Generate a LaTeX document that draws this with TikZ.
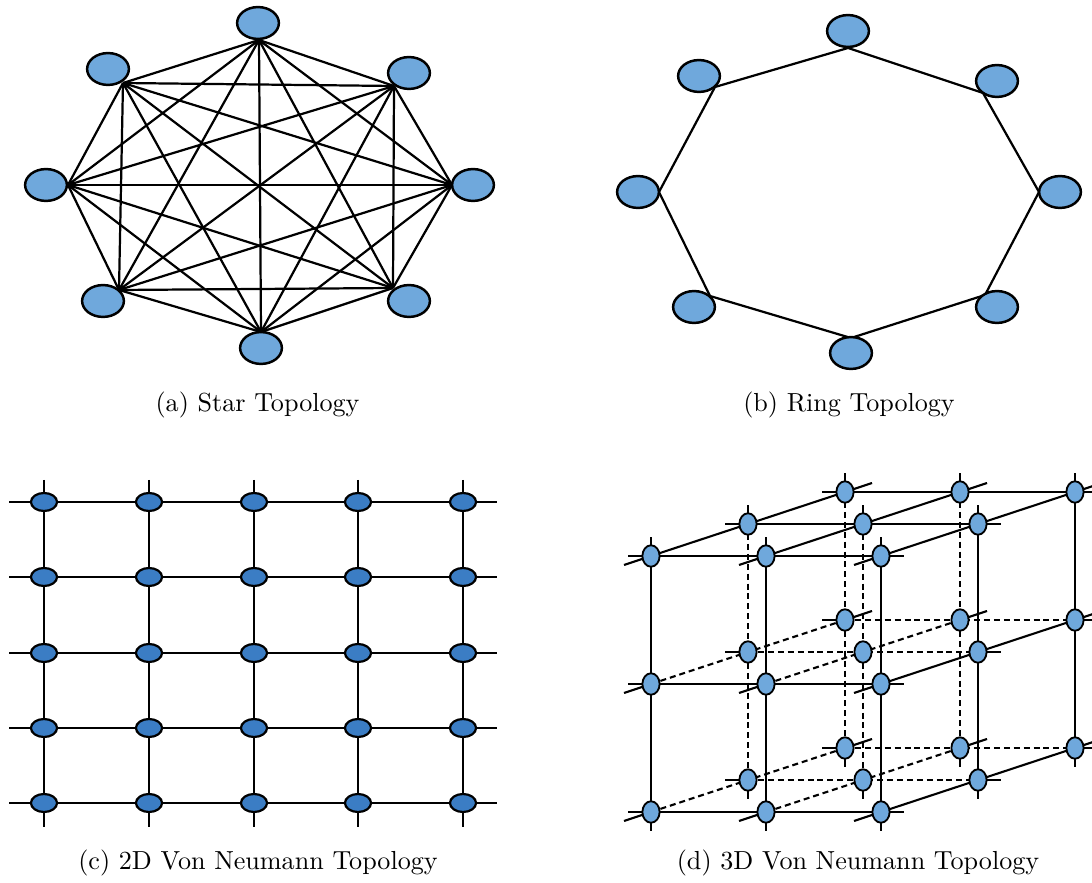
\documentclass[tikz,border=0pt]{standalone}
\usetikzlibrary{shapes.geometric,backgrounds}
\definecolor{lightnode}{RGB}{111,168,220}
\definecolor{gridnode}{RGB}{59,125,196}
\begin{document}
\begin{tikzpicture}[x=0.383pt,y=-0.383pt,
  bignode/.style={ellipse,draw=black,line width=0.95pt,fill=lightnode,minimum width=16pt,minimum height=12.2pt,inner sep=0pt},
  gnode/.style={ellipse,draw=black,line width=0.85pt,fill=gridnode,minimum width=10pt,minimum height=6.9pt,inner sep=0pt},
  cnode/.style={ellipse,draw=black,line width=0.7pt,fill=lightnode,minimum width=6.6pt,minimum height=8.2pt,inner sep=0pt},
  link/.style={line width=0.85pt},
  glink/.style={line width=0.8pt},
  clink/.style={line width=0.8pt},
  hid/.style={line width=0.8pt,dash pattern=on 2.3pt off 1.5pt},
  captext/.style={anchor=base,inner sep=0pt}]
\useasboundingbox (0,0) rectangle (1092,883);

% ---------------- (a) Star topology ----------------
\node[bignode] (s1) at (258,23) {};
\node[bignode] (s2) at (108,69) {};
\node[bignode] (s3) at (409,73) {};
\node[bignode] (s4) at (46,185) {};
\node[bignode] (s5) at (473,185) {};
\node[bignode] (s6) at (103,301) {};
\node[bignode] (s7) at (409,301) {};
\node[bignode] (s8) at (261,348) {};
\coordinate (p1) at (259,40);
\coordinate (p2) at (123,83);
\coordinate (p3) at (394,86);
\coordinate (p4) at (68,185);
\coordinate (p5) at (452,185);
\coordinate (p6) at (119,290);
\coordinate (p7) at (393,288);
\coordinate (p8) at (261,332);

% ---------------- (b) Ring topology ----------------
\node[bignode] (r1) at (848,31) {};
\node[bignode] (r2) at (997,81) {};
\node[bignode] (r3) at (1060,192) {};
\node[bignode] (r4) at (997,307) {};
\node[bignode] (r5) at (851,353) {};
\node[bignode] (r6) at (694,307) {};
\node[bignode] (r7) at (638,192) {};
\node[bignode] (r8) at (699,76) {};
\coordinate (q1) at (848,48);
\coordinate (q2) at (983,93);
\coordinate (q3) at (1039,192);
\coordinate (q4) at (985,295);
\coordinate (q5) at (851,338);
\coordinate (q6) at (710,296);
\coordinate (q7) at (659,192);
\coordinate (q8) at (715,87);

% ---------------- (c) 2D grid ----------------
\foreach \c/\x in {1/44,2/149,3/254,4/358,5/463}
  \foreach \r/\y in {1/502,2/577,3/653,4/728,5/803}
    \node[gnode] (g-\c-\r) at (\x,\y) {};

% ---------------- (d) 3D grid ----------------
\foreach \i in {0,1,2}
  \foreach \j in {0,1,2}
    \foreach \k in {0,1,2} {
      \pgfmathtruncatemacro\px{651+115*\i+97*\k}
      \pgfmathtruncatemacro\py{556+128*\j-32*\k}
      \node[cnode] (d-\i-\j-\k) at (\px,\py) {};
    }

% ---------------- connectors ----------------
\begin{pgfonlayer}{background}
  % star: complete graph
  \foreach \a in {1,...,8}
    \foreach \b in {1,...,8} {
      \ifnum\a<\b \draw[link] (p\a) -- (p\b); \fi
    }
  % ring
  \draw[link] (q1) -- (q2) -- (q3) -- (q4) -- (q5) -- (q6) -- (q7) -- (q8) -- cycle;
  % grid rows and columns
  \foreach \r in {1,...,5}
    \draw[glink] (g-1-\r.center) ++(-35,0) -- (g-5-\r.center) -- ++(34,0);
  \foreach \c in {1,...,5}
    \draw[glink] (g-\c-1.center) ++(0,-22) -- (g-\c-5.center) -- ++(0,24);
  % 3D: lines along x
  \foreach \j in {0,1,2}
    \foreach \k in {0,1,2} {
      \pgfmathtruncatemacro\sol{or(\k==0,\j==0)}
      \ifnum\sol=1 \draw[clink] (d-0-\j-\k.center) -- (d-2-\j-\k.center);
      \else \draw[hid] (d-0-\j-\k.center) -- (d-2-\j-\k.center); \fi
      \draw[clink] (d-0-\j-\k.center) -- ++(-23,0);
      \draw[clink] (d-2-\j-\k.center) -- ++(23,0);
    }
  % 3D: lines along y
  \foreach \i in {0,1,2}
    \foreach \k in {0,1,2} {
      \pgfmathtruncatemacro\sol{or(\k==0,\i==2)}
      \ifnum\sol=1 \draw[clink] (d-\i-0-\k.center) -- (d-\i-2-\k.center);
      \else \draw[hid] (d-\i-0-\k.center) -- (d-\i-2-\k.center); \fi
      \draw[clink] (d-\i-0-\k.center) -- ++(0,-19);
      \draw[clink] (d-\i-2-\k.center) -- ++(0,19);
    }
  % 3D: lines along depth
  \foreach \i in {0,1,2}
    \foreach \j in {0,1,2} {
      \pgfmathtruncatemacro\sol{or(\j==0,\i==2)}
      \ifnum\sol=1 \draw[clink] (d-\i-\j-0.center) -- (d-\i-\j-2.center);
      \else \draw[hid] (d-\i-\j-0.center) -- (d-\i-\j-2.center); \fi
      \draw[clink] (d-\i-\j-0.center) -- ++(-27,9);
      \draw[clink] (d-\i-\j-2.center) -- ++(27,-9);
    }
\end{pgfonlayer}

% ---------------- captions ----------------
\node[captext] (capa) at (257.5,412) {(a) Star Topology};
\node[captext] (capb) at (849,412) {(b) Ring Topology};
\node[captext] (capc) at (258,869) {(c) 2D Von Neumann Topology};
\node[captext] (capd) at (858,869) {(d) 3D Von Neumann Topology};
\end{tikzpicture}
\end{document}
